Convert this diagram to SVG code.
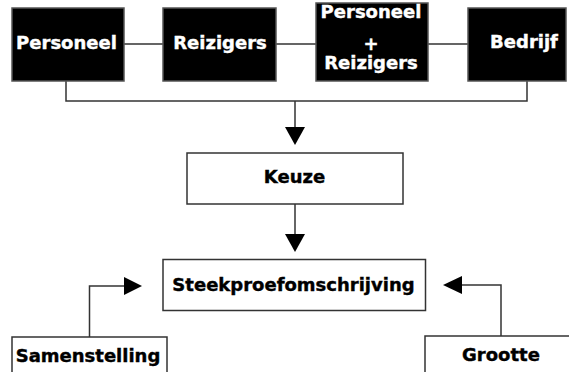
<svg xmlns="http://www.w3.org/2000/svg" width="569" height="372" viewBox="0 0 569 372">
<style>
.dark{fill:#000;stroke:#555;stroke-width:1.5}
.light{fill:#fff;stroke:#333;stroke-width:1.5}
.wt{fill:#fff;stroke:#fff;stroke-width:0.4;font-family:"DejaVu Sans",Verdana,sans-serif;font-weight:bold;font-size:18px;text-anchor:middle}
.bt{fill:#000;stroke:#000;stroke-width:0.4;font-family:"DejaVu Sans",Verdana,sans-serif;font-weight:bold;font-size:18px;text-anchor:middle}
.ln{fill:none;stroke:#333;stroke-width:1.5}
.ah{fill:#000;stroke:none}
</style>
<rect width="569" height="372" fill="#fff"/>
<g id="connectors">
<path class="ln" d="M124,44H163M276,44H316M428,44H468"/>
<path class="ln" d="M66,81V101H527V81M295,101V128"/>
<polygon class="ah" points="285,127 305,127 295,145"/>
<path class="ln" d="M295,204V235"/>
<polygon class="ah" points="285,234 305,234 295,252"/>
<path class="ln" d="M89.5,337V286H125"/>
<polygon class="ah" points="124,277 124,295 142,286"/>
<path class="ln" d="M501,336V285H461"/>
<polygon class="ah" points="462,276 462,294 443,285"/>
</g>
<g id="personeel">
<rect class="dark" x="12" y="8" width="112" height="73"/>
<text class="wt" x="66.5" y="49">Personeel</text>
</g>
<g id="reizigers">
<rect class="dark" x="163" y="8" width="113" height="73"/>
<text class="wt" x="220" y="49">Reizigers</text>
</g>
<g id="personeel-reizigers">
<rect class="dark" x="316" y="3" width="112" height="78"/>
<text class="wt" x="371" y="18">Personeel</text>
<text class="wt" x="371" y="50">+</text>
<text class="wt" x="371" y="69">Reizigers</text>
</g>
<g id="bedrijf">
<rect class="dark" x="468" y="8" width="98" height="73"/>
<text class="wt" x="524" y="48">Bedrijf</text>
</g>
<g id="keuze">
<rect class="light" x="187" y="153" width="216" height="51"/>
<text class="bt" x="294.5" y="183">Keuze</text>
</g>
<g id="steekproefomschrijving">
<rect class="light" x="163" y="259.5" width="262.5" height="51"/>
<text class="bt" x="293.5" y="291">Steekproefomschrijving</text>
</g>
<g id="samenstelling">
<rect class="light" x="12" y="337" width="155" height="50"/>
<text class="bt" x="88" y="362">Samenstelling</text>
</g>
<g id="grootte">
<rect class="light" x="425" y="336" width="152" height="50"/>
<text class="bt" x="501" y="361">Grootte</text>
</g>
</svg>
